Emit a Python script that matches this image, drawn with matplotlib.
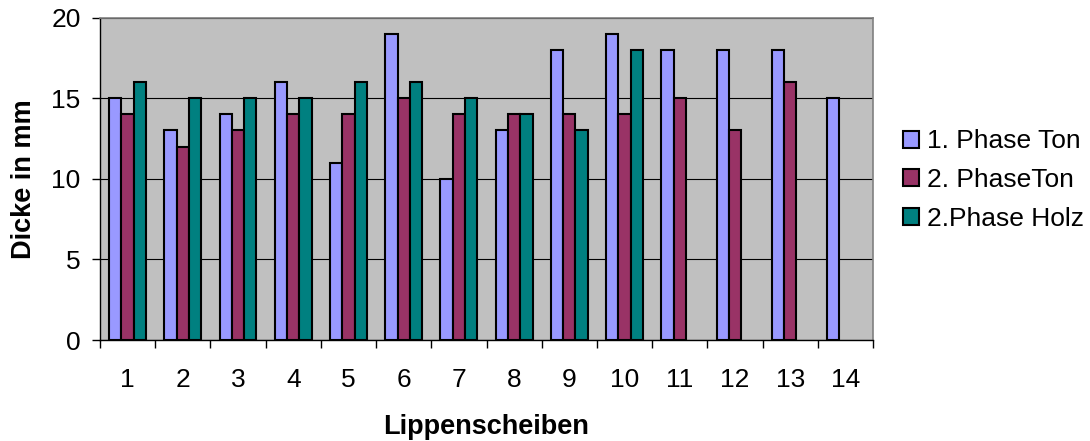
import matplotlib
matplotlib.use("Agg")
import matplotlib.pyplot as plt
import numpy as np

categories = ["1", "2", "3", "4", "5", "6", "7", "8", "9", "10", "11", "12", "13", "14"]
phase1_ton = [15, 13, 14, 16, 11, 19, 10, 13, 18, 19, 18, 18, 18, 15]
phase2_ton = [14, 12, 13, 14, 14, 15, 14, 14, 14, 14, 15, 13, 16, None]
phase2_holz = [16, 15, 15, 15, 16, 16, 15, 14, 13, 18, None, None, None, None]
series_names = ["1. Phase Ton", "2. PhaseTon", "2.Phase Holz"]
colors = ["#9999FF", "#993366", "#008080"]
y_ticks = [0, 5, 10, 15, 20]

plt.rcParams['font.family'] = ['Liberation Sans', 'DejaVu Sans']

fig = plt.figure(figsize=(10.9, 4.41), dpi=100)
ax = fig.add_axes([100/1090, 1-340/441, (873-100)/1090, (340-17.5)/441])
ax.set_facecolor("#C0C0C0")

x = np.arange(1, len(categories) + 1)
w = 1/4.5
all_series = [phase1_ton, phase2_ton, phase2_holz]
for k, (vals, name, col) in enumerate(zip(all_series, series_names, colors)):
    xs = [xi + (k - 1) * w for xi, v in zip(x, vals) if v is not None]
    vs = [v for v in vals if v is not None]
    ax.bar(xs, vs, width=w, color=col, edgecolor="black", linewidth=1.5,
           label=name, zorder=3)

ax.set_xlim(0.5, len(categories) + 0.5)
ax.set_ylim(0, 20)
ax.set_yticks(y_ticks)
ax.set_yticklabels([str(t) for t in y_ticks], fontsize=19)
ax.yaxis.grid(True, color="black", linewidth=0.8, zorder=1)
ax.set_axisbelow(True)

# category boundary ticks (major, unlabeled) and centered labels (minor)
ax.set_xticks(np.arange(0.5, len(categories) + 1, 1.0))
ax.set_xticklabels([])
ax.set_xticks(x, minor=True)
ax.set_xticklabels(categories, minor=True, fontsize=19)
ax.tick_params(axis="x", which="major", length=6, width=1, color="black", direction="out")
ax.tick_params(axis="x", which="minor", length=0, pad=20)
ax.tick_params(axis="y", which="major", length=6, width=1, direction="out", pad=8)

for s in ["top", "right"]:
    ax.spines[s].set_color("#808080")
    ax.spines[s].set_linewidth(1.2)
for s in ["left", "bottom"]:
    ax.spines[s].set_color("black")
    ax.spines[s].set_linewidth(1)

ax.set_ylabel("Dicke in mm", fontsize=19.5, fontweight="bold", labelpad=10)
ax.set_xlabel("Lippenscheiben", fontsize=19.5, fontweight="bold", labelpad=16)

fig.legend(loc="center left", bbox_to_anchor=(903/1090, 1-180/441), frameon=False,
           fontsize=19, handlelength=0.6, handleheight=0.6, handletextpad=0.3,
           labelspacing=0.55, borderpad=0, borderaxespad=0)

fig.savefig("out.png", dpi=100)
